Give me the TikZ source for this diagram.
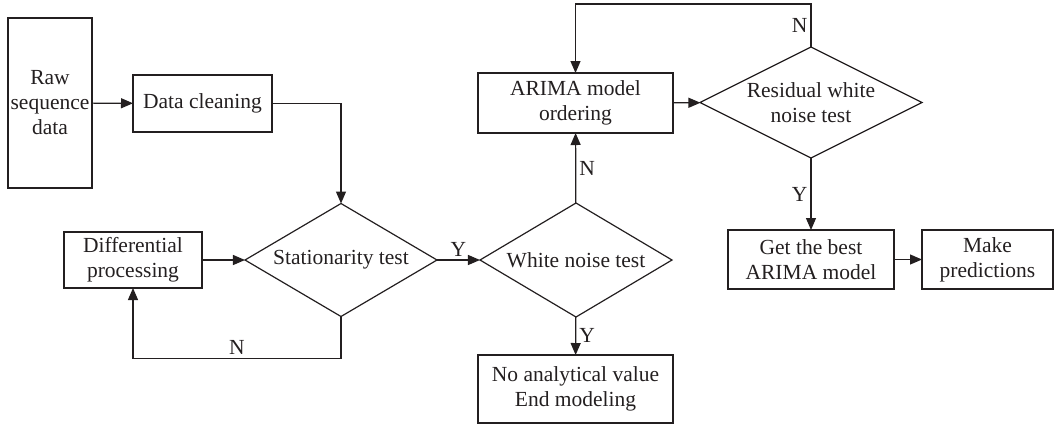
\documentclass[tikz,border=0pt]{standalone}
\usepackage{fontspec}
\setmainfont{Liberation Serif}
\usetikzlibrary{shapes.geometric,arrows.meta,positioning}
\definecolor{ink}{RGB}{35,31,32}

\begin{document}
\begin{tikzpicture}[x=1bp, y=-1bp,
    every node/.style={font=\fontsize{21.5bp}{25bp}\selectfont, text=ink},
    box/.style={rectangle, draw=ink, line width=1.2bp, align=center, inner sep=0pt, outer sep=0pt},
    decision/.style={diamond, draw=ink, line width=1.2bp, align=center, inner sep=0pt, outer sep=0pt, aspect=2},
    arrow/.style={-{Triangle[length=12bp,width=10bp]}, draw=ink, line width=1.2bp},
    lbl/.style={inner sep=3bp}]

    \useasboundingbox (0,0) rectangle (1055,426);

    % Boxes - left part
    \node[box, minimum width=84bp, minimum height=170bp] (raw) at (50,103) {Raw\\sequence\\data};
    \node[box, minimum width=139bp, minimum height=57bp] (clean) at (202.5,103.5) {Data cleaning};
    \node[box, minimum width=138bp, minimum height=56bp] (diff) at (133,260) {Differential\\processing};
    \node[decision, minimum width=192bp, minimum height=113bp] (stat) at (341,260) {Stationarity test};
    % Boxes - middle part
    \node[decision, minimum width=192bp, minimum height=114bp] (white) at (576,260) {White noise test};
    \node[box, minimum width=195bp, minimum height=68bp] (noval) at (575.5,389) {No analytical value\\End modeling};
    \node[box, minimum width=195bp, minimum height=60bp] (arima) at (575.5,103) {ARIMA model\\ordering};
    % Boxes - right part
    \node[decision, minimum width=222bp, minimum height=111bp] (resid) at (811,102.5) {Residual white\\noise test};
    \node[box, minimum width=166bp, minimum height=59bp] (best) at (811,259.5) {Get the best\\ARIMA model};
    \node[box, minimum width=131bp, minimum height=59bp] (pred) at (987.5,259.5) {Make\\predictions};

    % Arrows
    \draw[arrow] (raw) -- (clean);
    \draw[arrow] (clean.east) -| (stat.north);
    \draw[arrow] (diff) -- (stat);
    \draw[arrow] (stat) -- node[lbl, above] {Y} (white);
    \draw[arrow] (white) -- node[lbl, right] {Y} (noval);
    \draw[arrow] (white) -- node[lbl, right] {N} (arima);
    \draw[arrow] (arima) -- (resid);
    \draw[arrow] (resid) -- node[lbl, left] {Y} (best);
    \draw[arrow] (best) -- (pred);

    % Feedback loops
    \draw[arrow] (stat.south) -- ++(0,42) -| node[lbl, pos=0.25, above] {N} (diff.south);
    \draw[arrow] (resid.north) -- node[lbl, left] {N} ++(0,-43) -| (arima.north);
\end{tikzpicture}
\end{document}
